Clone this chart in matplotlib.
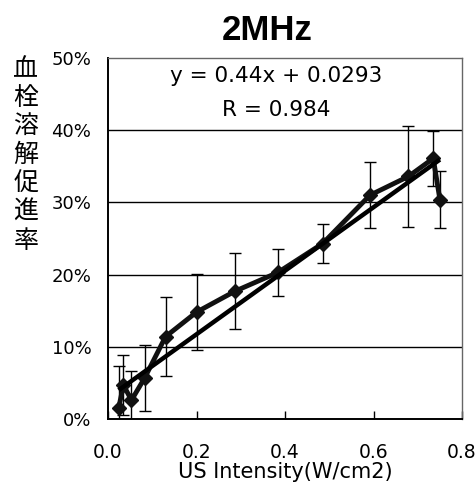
import numpy as np
import matplotlib
matplotlib.use("Agg")
import matplotlib.pyplot as plt
from matplotlib.ticker import FuncFormatter

plt.rcParams['font.family'] = ['DejaVu Sans']

# data (y in percent)
intensity = [0.024, 0.035, 0.053, 0.083, 0.13, 0.2, 0.287, 0.384, 0.485, 0.592, 0.679, 0.735, 0.75]
rate = [1.5, 4.7, 2.6, 5.7, 11.4, 14.8, 17.7, 20.3, 24.3, 31.0, 33.6, 36.1, 30.4]
rate_err = [5.9, 4.1, 4.1, 4.6, 5.5, 5.3, 5.3, 3.3, 2.7, 4.6, 7.0, 3.8, 4.0]
slope = 0.44
intercept = 0.0293
r_value = 0.984
y_ticks = [0, 10, 20, 30, 40, 50]
x_ticks = [0.0, 0.2, 0.4, 0.6, 0.8]

fig = plt.figure(figsize=(4.77, 5.01), dpi=100)
ax = fig.add_axes([0.2264, 0.1637, 0.7422, 0.7205])

ax.errorbar(intensity, rate, yerr=rate_err, fmt='none', ecolor='black',
            elinewidth=1.0, capsize=4.5, capthick=1.0, zorder=2)
ax.plot(intensity, rate, color='#111111', lw=3.5, marker='D', markersize=7.5,
        markerfacecolor='#111111', markeredgecolor='#111111', zorder=3)

fit_x = np.array([min(intensity), max(intensity)])
fit_y = (slope * fit_x + intercept) * 100
ax.plot(fit_x, fit_y, color='black', lw=3.2, solid_capstyle='butt', zorder=3)

ax.set_xlim(0, 0.8)
ax.set_ylim(0, 50)
ax.set_yticks(y_ticks)
ax.set_xticks(x_ticks)
ax.yaxis.set_major_formatter(FuncFormatter(lambda v, p: '%d%%' % v))
ax.xaxis.set_major_formatter(FuncFormatter(lambda v, p: '%.1f' % v))
ax.tick_params(axis='y', length=0, pad=12, labelsize=13)
ax.tick_params(axis='x', direction='in', length=6, width=1, pad=17, labelsize=13.5)
for v in y_ticks[1:-1]:
    ax.axhline(v, color='black', lw=1.0, zorder=1)

for side in ['top', 'right']:
    ax.spines[side].set_color('#666666')
    ax.spines[side].set_linewidth(1.0)
for side in ['left', 'bottom']:
    ax.spines[side].set_color('black')
    ax.spines[side].set_linewidth(1.4)

ax.text(0.475, 0.95, 'y = %.2fx + %.4f' % (slope, intercept), transform=ax.transAxes,
        ha='center', va='center', fontsize=15.5)
ax.text(0.475, 0.856, 'R = %.3f' % r_value, transform=ax.transAxes,
        ha='center', va='center', fontsize=15.5)

fig.text(267 / 477, 1 - 30 / 501, '2MHz', ha='center', va='center', fontsize=25,
         fontweight='bold', family=['Liberation Sans', 'DejaVu Sans'])
ax.set_xlabel('US Intensity(W/cm2)', fontsize=15, labelpad=0)
fig.text(26 / 477, 1 - 56 / 501, '\n'.join('血栓溶解促進率'), ha='center', va='top',
         fontsize=18, family=['Noto Sans CJK JP', 'DejaVu Sans'], linespacing=1.13)

fig.savefig('out.png', dpi=100)
